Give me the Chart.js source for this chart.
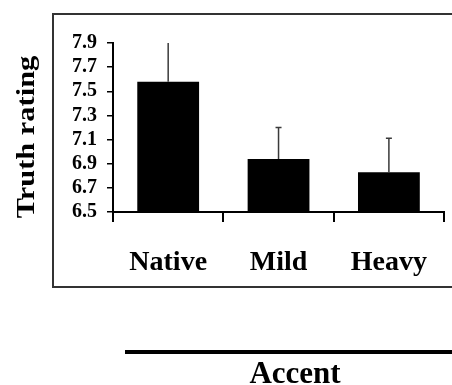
<!DOCTYPE html>
<html><head><meta charset="utf-8">
<script src="https://cdn.jsdelivr.net/npm/chart.js@4.4.1/dist/chart.umd.min.js"></script>
<style>html,body{margin:0;padding:0;background:#fff;} #wrap{width:452px;height:385px;position:relative;}</style>
</head><body><div id="wrap"><canvas id="c" width="452" height="385"></canvas></div>
<script>
const categories = ['Native', 'Mild', 'Heavy'];
const truthRating = [7.58, 6.94, 6.83];
const errorUpper = [0.32, 0.26, 0.28];
const yTicks = [6.5, 6.7, 6.9, 7.1, 7.3, 7.5, 7.7, 7.9];
const yTitle = 'Truth rating';
const xTitle = 'Accent';

const SERIF = "'Liberation Serif', 'Times New Roman', 'DejaVu Serif', serif";

const decor = {
  id: 'decor',
  beforeDraw(chart) {
    const ctx = chart.ctx;
    ctx.save();
    ctx.fillStyle = '#fff';
    ctx.fillRect(0, 0, chart.width, chart.height);
    ctx.restore();
  },
  afterDatasetsDraw(chart) {
    const ctx = chart.ctx;
    const y = chart.scales.y;
    const meta = chart.getDatasetMeta(0);
    ctx.save();
    ctx.strokeStyle = '#3a3a3a';
    ctx.lineWidth = 1.5;
    meta.data.forEach((bar, i) => {
      const cx = bar.x;
      const top = y.getPixelForValue(truthRating[i] + errorUpper[i]);
      ctx.beginPath();
      ctx.moveTo(cx, bar.y);
      ctx.lineTo(cx, top);
      if (i > 0) {
        ctx.moveTo(cx - 3, top);
        ctx.lineTo(cx + 3, top);
      }
      ctx.stroke();
    });
    ctx.restore();
  },
  afterDraw(chart) {
    const ctx = chart.ctx;
    ctx.save();
    // frame
    ctx.strokeStyle = '#333';
    ctx.lineWidth = 2;
    ctx.beginPath();
    ctx.moveTo(460, 14);
    ctx.lineTo(53, 14);
    ctx.lineTo(53, 287);
    ctx.lineTo(460, 287);
    ctx.stroke();
    // accent rule
    ctx.strokeStyle = '#000';
    ctx.lineWidth = 4;
    ctx.beginPath();
    ctx.moveTo(125, 352);
    ctx.lineTo(452, 352);
    ctx.stroke();
    // texts
    ctx.fillStyle = '#000';
    ctx.font = 'bold 31px ' + SERIF;
    ctx.textAlign = 'center';
    ctx.textBaseline = 'alphabetic';
    ctx.fillText(xTitle, 295, 383);
    ctx.translate(34, 137);
    ctx.rotate(-Math.PI / 2);
    ctx.scale(1.17, 1);
    ctx.font = 'bold 26px ' + SERIF;
    ctx.fillText(yTitle, 0, 0);
    ctx.restore();
  }
};

new Chart(document.getElementById('c'), {
  type: 'bar',
  data: {
    labels: categories,
    datasets: [{
      data: truthRating,
      backgroundColor: '#000',
      borderWidth: 0,
      barPercentage: 0.56,
      categoryPercentage: 1.0
    }]
  },
  options: {
    responsive: false,
    animation: false,
    devicePixelRatio: 1,
    layout: { padding: { top: 43, right: 6, left: 0, bottom: 0 } },
    plugins: { legend: { display: false }, tooltip: { enabled: false } },
    scales: {
      y: {
        min: 6.5,
        max: 7.9,
        afterFit: s => { s.width = 113; },
        afterBuildTicks: s => { s.ticks = yTicks.map(v => ({ value: v })); },
        ticks: {
          autoSkip: false,
          callback: v => Number(v).toFixed(1),
          font: { family: SERIF, size: 20, weight: 'bold', lineHeight: 1 },
          color: '#000',
          padding: 10
        },
        grid: { drawOnChartArea: false, drawTicks: true, tickLength: 6, color: '#000', lineWidth: 1.5 },
        border: { color: '#000', width: 2 }
      },
      x: {
        afterFit: s => { s.height = 173; },
        ticks: {
          autoSkip: false,
          font: { family: SERIF, size: 28, weight: 'bold' },
          color: '#000',
          padding: 24
        },
        grid: { drawOnChartArea: false, drawTicks: true, tickLength: 10, color: '#000', lineWidth: 2, offset: true },
        border: { color: '#000', width: 2 }
      }
    }
  },
  plugins: [decor]
});
</script>
</body></html>
